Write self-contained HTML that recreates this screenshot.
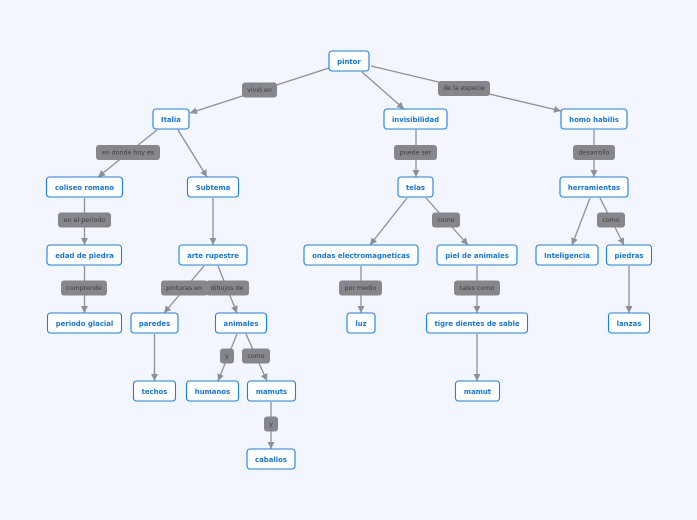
<!DOCTYPE html>
<html><head><meta charset="utf-8"><style>
html,body{margin:0;padding:0;background:#f3f6ff;width:697px;height:520px;overflow:hidden}
svg{display:block}
.n rect{fill:#fff;stroke:#1580ea;stroke-width:1.1}
.n text{font:bold 6.9px "DejaVu Sans",sans-serif;fill:#1278e2;text-anchor:middle}
.l rect{fill:#87878b}
.l text{font:6.3px "DejaVu Sans",sans-serif;fill:#3a3a3f;text-anchor:middle}
.c line{stroke:#8f8f97;stroke-width:1.3}
</style></head><body>
<svg width="697" height="520" viewBox="0 0 697 520" xmlns="http://www.w3.org/2000/svg">
<defs><marker id="a" markerUnits="userSpaceOnUse" markerWidth="9" markerHeight="9" refX="7" refY="3.500" orient="auto"><path d="M0 0L7 3.500L0 7z" fill="#8f8f97"/></marker></defs>
<g class="c">
<line x1="329" y1="68" x2="190" y2="113" marker-end="url(#a)"/>
<line x1="362" y1="72" x2="404" y2="109" marker-end="url(#a)"/>
<line x1="371" y1="66" x2="561" y2="111" marker-end="url(#a)"/>
<line x1="157" y1="130" x2="98" y2="177" marker-end="url(#a)"/>
<line x1="178" y1="130" x2="207" y2="177" marker-end="url(#a)"/>
<line x1="416" y1="130" x2="416" y2="177" marker-end="url(#a)"/>
<line x1="594" y1="130" x2="594" y2="177" marker-end="url(#a)"/>
<line x1="84.500" y1="198" x2="84.500" y2="245" marker-end="url(#a)"/>
<line x1="213" y1="198" x2="213" y2="245" marker-end="url(#a)"/>
<line x1="407" y1="198" x2="370" y2="245" marker-end="url(#a)"/>
<line x1="426" y1="198" x2="468" y2="245" marker-end="url(#a)"/>
<line x1="590" y1="198" x2="572" y2="245" marker-end="url(#a)"/>
<line x1="600" y1="198" x2="624" y2="245" marker-end="url(#a)"/>
<line x1="84.500" y1="266" x2="84.500" y2="313" marker-end="url(#a)"/>
<line x1="204" y1="266" x2="164" y2="313" marker-end="url(#a)"/>
<line x1="218" y1="266" x2="237" y2="313" marker-end="url(#a)"/>
<line x1="361" y1="266" x2="361" y2="313" marker-end="url(#a)"/>
<line x1="477" y1="266" x2="477" y2="313" marker-end="url(#a)"/>
<line x1="629" y1="266" x2="629" y2="313" marker-end="url(#a)"/>
<line x1="154.500" y1="334" x2="154.500" y2="381" marker-end="url(#a)"/>
<line x1="237" y1="334" x2="218" y2="381" marker-end="url(#a)"/>
<line x1="246" y1="334" x2="267" y2="381" marker-end="url(#a)"/>
<line x1="477" y1="334" x2="477" y2="381" marker-end="url(#a)"/>
<line x1="271" y1="402" x2="271" y2="449" marker-end="url(#a)"/>
</g>
<g class="l">
<rect x="242" y="82.500" width="35" height="15" rx="3"/><text x="259.500" y="92">vivió en</text>
<rect x="438" y="81" width="52" height="15" rx="3"/><text x="464" y="90">de la especie</text>
<rect x="96" y="145" width="64" height="15" rx="3"/><text x="128" y="154.500">en donde hoy es</text>
<rect x="394" y="145" width="43" height="15" rx="3"/><text x="415.500" y="154.500">puede ser</text>
<rect x="573" y="145" width="42" height="15" rx="3"/><text x="594" y="154.500">desarrollo</text>
<rect x="58" y="212.500" width="53" height="15" rx="3"/><text x="84.500" y="222">en el periodo</text>
<rect x="432" y="212.500" width="28" height="15" rx="3"/><text x="446" y="222">como</text>
<rect x="597" y="212.500" width="28" height="15" rx="3"/><text x="611" y="222">como</text>
<rect x="61" y="280.500" width="46" height="15" rx="3"/><text x="84" y="290">comprende</text>
<rect x="161" y="280.500" width="47" height="15" rx="3"/><text x="184" y="290">pinturas en</text>
<rect x="206" y="280.500" width="43" height="15" rx="3"/><text x="227" y="290">dibujos de</text>
<rect x="339" y="280.500" width="43" height="15" rx="3"/><text x="360.500" y="290">por medio</text>
<rect x="454" y="280.500" width="46" height="15" rx="3"/><text x="477" y="290">tales como</text>
<rect x="220" y="348.500" width="14" height="15" rx="3"/><text x="227" y="358">y</text>
<rect x="242" y="348.500" width="28" height="15" rx="3"/><text x="256" y="358">como</text>
<rect x="264" y="416.500" width="14" height="15" rx="3"/><text x="271" y="426">y</text>
</g>
<g class="n">
<rect x="329" y="51" width="40" height="20" rx="3"/><text x="349" y="64">pintor</text>
<rect x="153" y="109" width="36" height="20" rx="3"/><text x="171" y="122">Italia</text>
<rect x="384" y="109" width="63" height="20" rx="3"/><text x="415.500" y="122">invisibilidad</text>
<rect x="561" y="109" width="66" height="20" rx="3"/><text x="594" y="122">homo habilis</text>
<rect x="46.500" y="177" width="76" height="20" rx="3"/><text x="84.500" y="190">coliseo romano</text>
<rect x="187.500" y="177" width="51" height="20" rx="3"/><text x="213" y="190">Subtema</text>
<rect x="398" y="177" width="35" height="20" rx="3"/><text x="415.500" y="190">telas</text>
<rect x="560" y="177" width="68" height="20" rx="3"/><text x="594" y="190">herramientas</text>
<rect x="47" y="245" width="74.500" height="20" rx="3"/><text x="84.500" y="258">edad de piedra</text>
<rect x="179" y="245" width="68" height="20" rx="3"/><text x="213" y="258">arte rupestre</text>
<rect x="304" y="245" width="114" height="20" rx="3"/><text x="361" y="258">ondas electromagneticas</text>
<rect x="437" y="245" width="80" height="20" rx="3"/><text x="477" y="258">piel de animales</text>
<rect x="536" y="245" width="62" height="20" rx="3"/><text x="567" y="258">Inteligencia</text>
<rect x="606.500" y="245" width="45" height="20" rx="3"/><text x="629" y="258">piedras</text>
<rect x="47.500" y="313" width="74" height="20" rx="3"/><text x="84.500" y="326">periodo glacial</text>
<rect x="131" y="313" width="47" height="20" rx="3"/><text x="154.500" y="326">paredes</text>
<rect x="215.500" y="313" width="51" height="20" rx="3"/><text x="241" y="326">animales</text>
<rect x="347" y="313" width="28" height="20" rx="3"/><text x="361" y="326">luz</text>
<rect x="426.500" y="313" width="101" height="20" rx="3"/><text x="477" y="326">tigre dientes de sable</text>
<rect x="608.500" y="313" width="41" height="20" rx="3"/><text x="629" y="326">lanzas</text>
<rect x="133.500" y="381" width="42" height="20" rx="3"/><text x="154.500" y="394">techos</text>
<rect x="186.500" y="381" width="52" height="20" rx="3"/><text x="212.500" y="394">humanos</text>
<rect x="247.500" y="381" width="48" height="20" rx="3"/><text x="271.500" y="394">mamuts</text>
<rect x="455.500" y="381" width="44" height="20" rx="3"/><text x="477.500" y="394">mamut</text>
<rect x="247" y="449" width="48" height="20" rx="3"/><text x="271" y="462">caballos</text>
</g>
</svg>
</body></html>
